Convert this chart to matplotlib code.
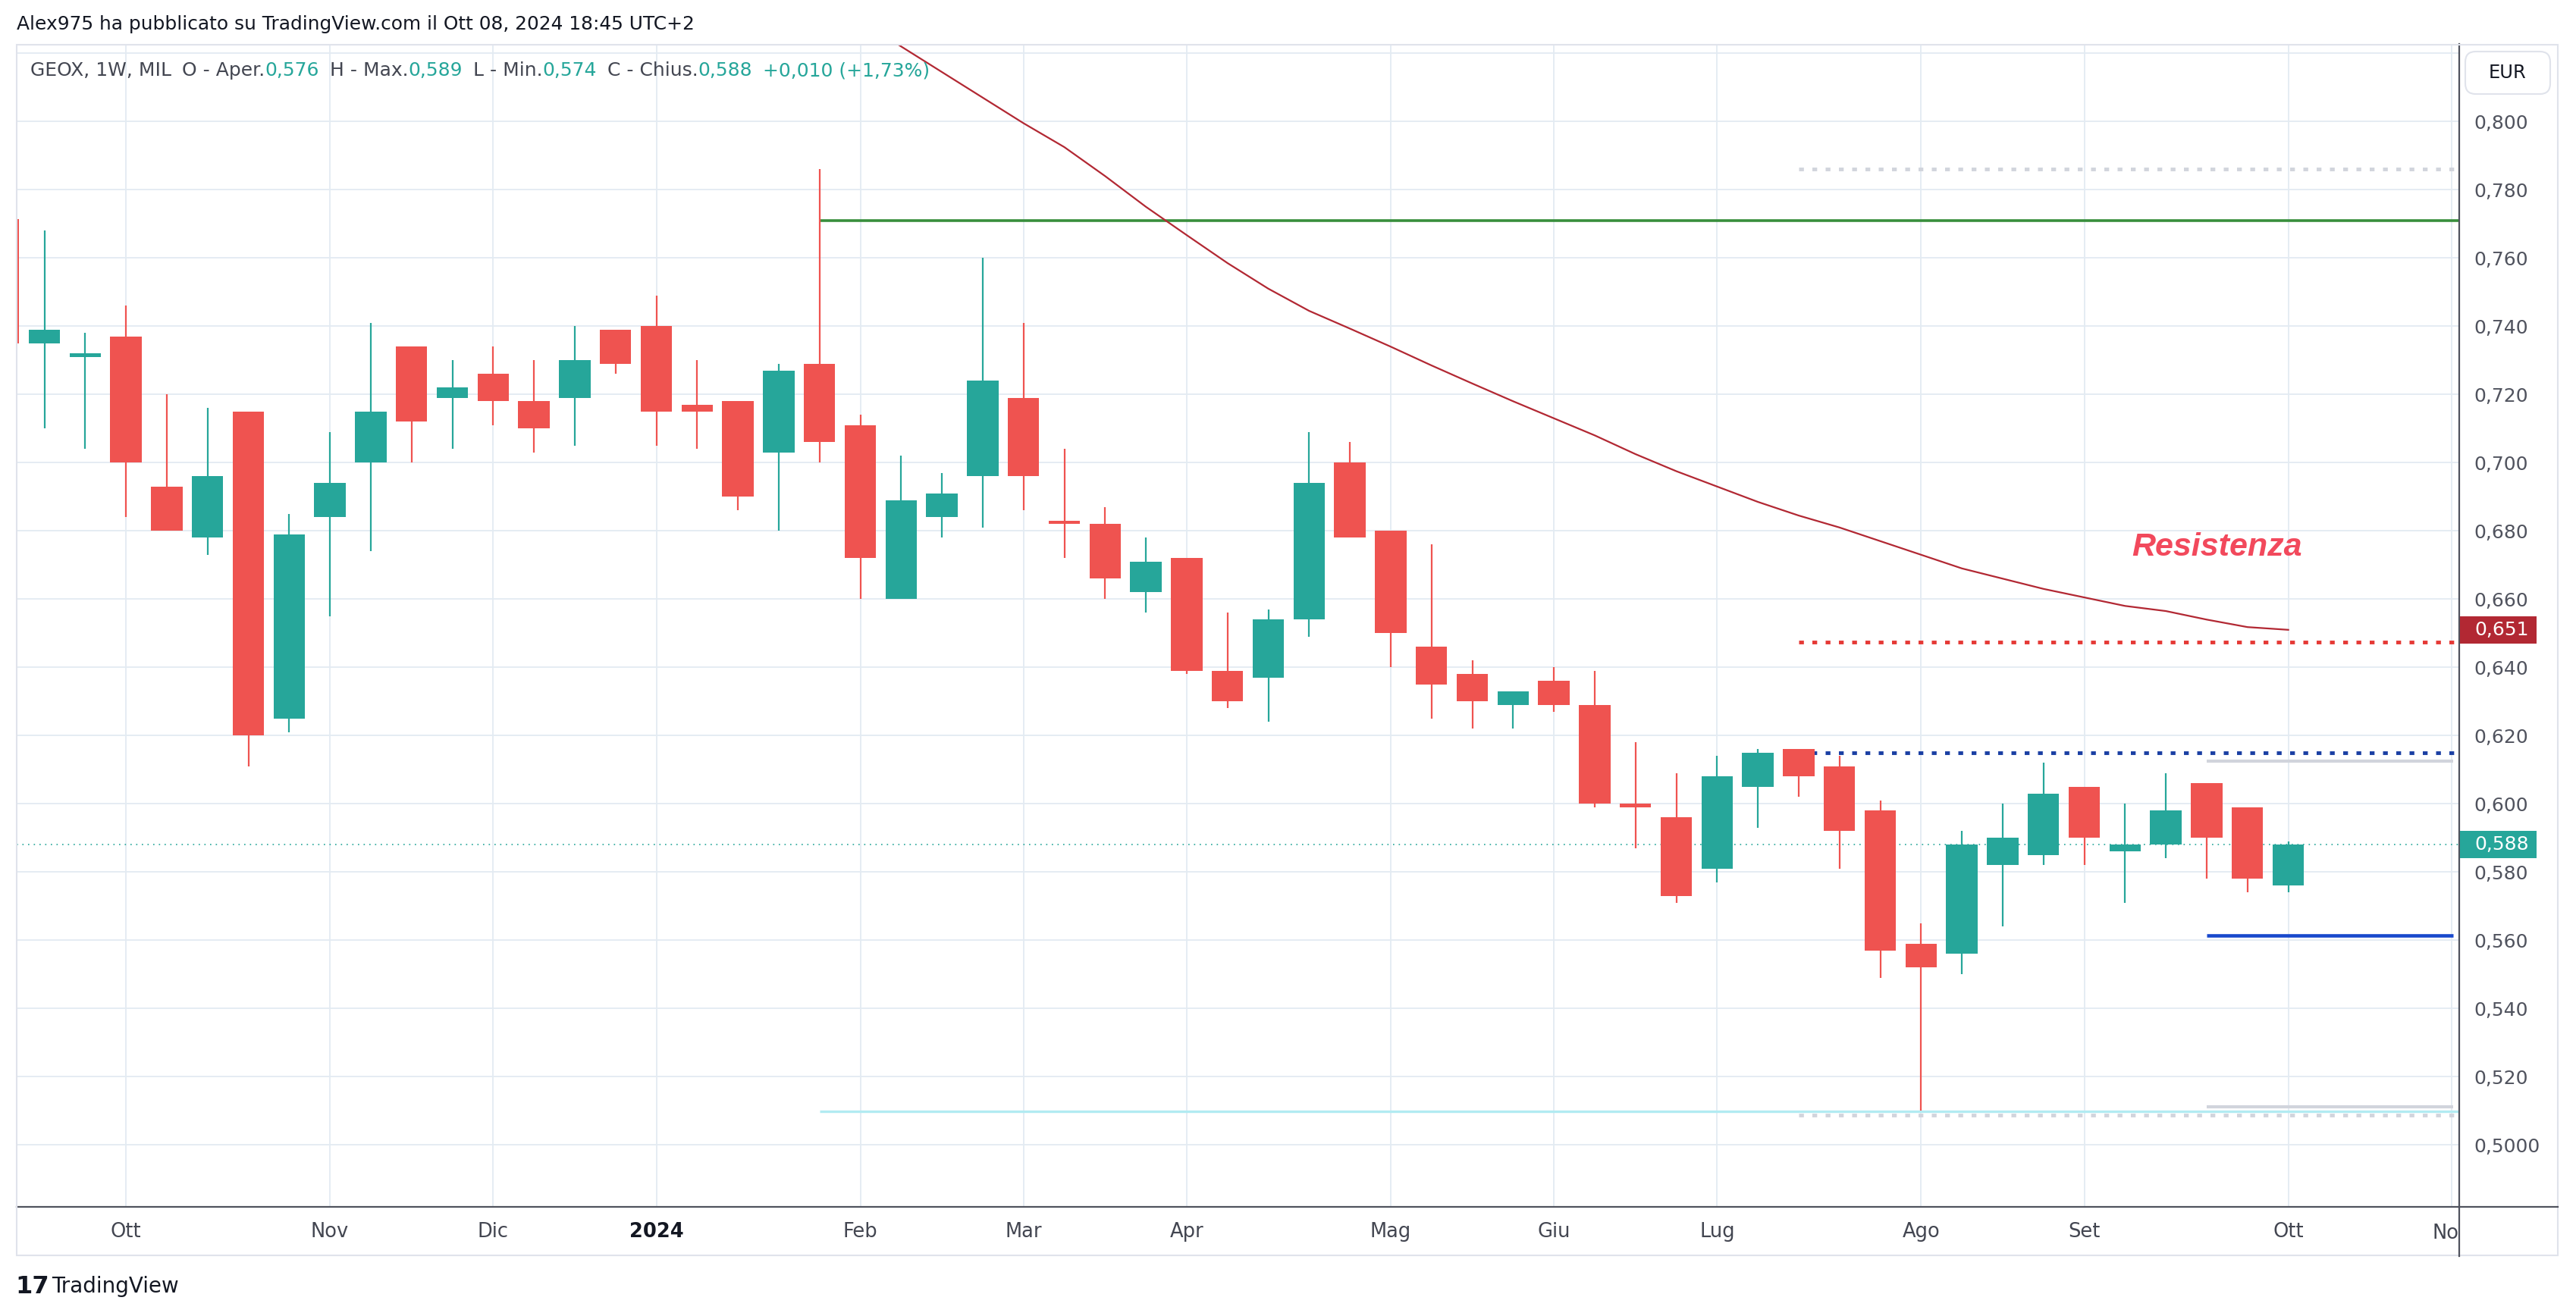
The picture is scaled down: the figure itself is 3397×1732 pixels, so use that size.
import matplotlib
matplotlib.use("Agg")
import matplotlib.pyplot as plt
import matplotlib.transforms as mtransforms
from matplotlib.patches import Rectangle, FancyBboxPatch
from matplotlib.lines import Line2D
import numpy as np

W, H = 3397, 1732
DPI = 100

# candele settimanali GEOX (indice 0 = 18 set 2023, -1 = candela tagliata a sinistra)
week = np.arange(-1, 56)
opens = [0.7715, 0.735, 0.731, 0.737, 0.693, 0.678, 0.715, 0.625, 0.684, 0.700,
         0.734, 0.719, 0.726, 0.718, 0.719, 0.739, 0.740, 0.717, 0.718, 0.703,
         0.729, 0.711, 0.660, 0.684, 0.696, 0.719, 0.683, 0.682, 0.662, 0.672,
         0.639, 0.637, 0.654, 0.700, 0.680, 0.646, 0.638, 0.629, 0.636, 0.629,
         0.600, 0.596, 0.581, 0.605, 0.616, 0.611, 0.598, 0.559, 0.556, 0.582,
         0.585, 0.605, 0.586, 0.588, 0.606, 0.599, 0.576]
highs = [0.7715, 0.768, 0.738, 0.746, 0.720, 0.716, 0.715, 0.685, 0.709, 0.741,
         0.734, 0.730, 0.734, 0.730, 0.740, 0.739, 0.749, 0.730, 0.718, 0.729,
         0.786, 0.714, 0.702, 0.697, 0.760, 0.741, 0.704, 0.687, 0.678, 0.672,
         0.656, 0.657, 0.709, 0.706, 0.680, 0.676, 0.642, 0.633, 0.640, 0.639,
         0.618, 0.609, 0.614, 0.616, 0.616, 0.614, 0.601, 0.565, 0.592, 0.600,
         0.612, 0.605, 0.600, 0.609, 0.606, 0.599, 0.589]
lows = [0.735, 0.710, 0.704, 0.684, 0.680, 0.673, 0.611, 0.621, 0.655, 0.674,
        0.700, 0.704, 0.711, 0.703, 0.705, 0.726, 0.705, 0.704, 0.686, 0.680,
        0.700, 0.660, 0.660, 0.678, 0.681, 0.686, 0.672, 0.660, 0.656, 0.638,
        0.628, 0.624, 0.649, 0.678, 0.640, 0.625, 0.622, 0.622, 0.627, 0.599,
        0.587, 0.571, 0.577, 0.593, 0.602, 0.581, 0.549, 0.510, 0.550, 0.564,
        0.582, 0.582, 0.571, 0.584, 0.578, 0.574, 0.574]
closes = [0.735, 0.739, 0.732, 0.700, 0.680, 0.696, 0.620, 0.679, 0.694, 0.715,
          0.712, 0.722, 0.718, 0.710, 0.730, 0.729, 0.715, 0.715, 0.690, 0.727,
          0.706, 0.672, 0.689, 0.691, 0.724, 0.696, 0.682, 0.666, 0.671, 0.639,
          0.630, 0.654, 0.694, 0.678, 0.650, 0.635, 0.630, 0.633, 0.629, 0.600,
          0.599, 0.573, 0.608, 0.615, 0.608, 0.592, 0.557, 0.552, 0.588, 0.590,
          0.603, 0.590, 0.588, 0.598, 0.590, 0.578, 0.588]

# media mobile (linea rossa scura)
sma_x = np.arange(20, 56)
sma = [0.830, 0.822, 0.8145, 0.807, 0.7995, 0.7925, 0.784, 0.775, 0.7667, 0.7585,
       0.751, 0.7445, 0.7393, 0.734, 0.7285, 0.7232, 0.718, 0.713, 0.708, 0.7025,
       0.6975, 0.693, 0.6885, 0.6845, 0.681, 0.677, 0.673, 0.669, 0.666, 0.663,
       0.6605, 0.658, 0.6565, 0.654, 0.6518, 0.651]

month_pos = [2, 7, 11, 15, 20, 24, 28, 33, 37, 41, 46, 50, 55, 59]
month_lab = ["Ott", "Nov", "Dic", "2024", "Feb", "Mar", "Apr", "Mag", "Giu",
             "Lug", "Ago", "Set", "Ott", ""]

price_ticks = [0.50, 0.52, 0.54, 0.56, 0.58, 0.60, 0.62, 0.64, 0.66, 0.68,
               0.70, 0.72, 0.74, 0.76, 0.78, 0.80, 0.82]
price_labels = ["0,5000", "0,520", "0,540", "0,560", "0,580", "0,600", "0,620",
                "0,640", "0,660", "0,680", "0,700", "0,720", "0,740", "0,760",
                "0,780", "0,800", ""]

last_price = 0.588
sma_last = 0.651

UP = "#26a69a"
DOWN = "#ef5350"
AXC = "#50535e"
GRID = "#e3ebf2"

fig = plt.figure(figsize=(W / DPI, H / DPI), dpi=DPI)
fig.patch.set_facecolor("white")

def fx(x):
    return x / W

def fy(y):
    return 1 - y / H

ax = fig.add_axes([fx(21.7), fy(1592.4), fx(3243) - fx(21.7), fy(58.5) - fy(1592.4)])
ax.set_xlim(-0.684, 59.19)
ax.set_ylim(0.48176, 0.82262)

# griglia
ax.set_yticks(price_ticks)
ax.set_yticklabels(price_labels)
ax.set_xticks(month_pos)
ax.set_xticklabels(month_lab)
ax.grid(True, color=GRID, lw=1.3, zorder=0)
ax.set_axisbelow(True)

ax.yaxis.tick_right()
ax.tick_params(axis="y", length=0, pad=14, labelsize=18, labelcolor=AXC)
ax.tick_params(axis="x", length=0, pad=14, labelsize=18.5, labelcolor="#434651")
for lab in ax.get_xticklabels():
    if lab.get_text() == "2024":
        lab.set_fontweight("bold")
        lab.set_color("#131722")
for s in ["top", "left"]:
    ax.spines[s].set_visible(False)
for s in ["right", "bottom"]:
    ax.spines[s].set_color(AXC)
    ax.spines[s].set_linewidth(1.6)

# etichetta "Nov" tagliata dall'asse dei prezzi
nov = ax.text(59, -0.0225, "Nov", transform=ax.get_xaxis_transform(), ha="center",
              va="center", fontsize=18.5, color="#434651")
nov.set_clip_box(mtransforms.TransformedBbox(
    mtransforms.Bbox([[0, 0], [fx(3243), 1]]), fig.transFigure))
nov.set_clip_on(True)

# linee orizzontali disegnate
ax.hlines(0.771, 19, 59.5, color="#388e3c", lw=2.6, zorder=2)
ax.hlines(0.5098, 19, 59.5, color="#b2ebf2", lw=2.4, zorder=2)
ax.hlines(0.786, 43, 59.5, color="#d1d4dc", lw=3.5, linestyles=(0, (1.3, 2.3)), zorder=2)
ax.hlines(0.5088, 43, 59.5, color="#d1d4dc", lw=3.5, linestyles=(0, (1.3, 2.3)), zorder=2)
ax.hlines(0.6475, 43, 59.5, color="#e53935", lw=3.5, linestyles=(0, (1.3, 2.3)), zorder=2)
ax.hlines(0.615, 43, 59.5, color="#1a3fa3", lw=3.5, linestyles=(0, (1.3, 2.3)), zorder=2)
ax.hlines(0.6125, 53, 59.04, color="#d1d4dc", lw=3, zorder=2)
ax.hlines(0.5112, 53, 59.04, color="#d1d4dc", lw=3, zorder=2)
ax.hlines(0.5615, 53, 59.04, color="#1848cc", lw=3.3, zorder=2)
ax.axhline(last_price, color=UP, lw=1.2, ls=(0, (1, 3.5)), zorder=2)

# candele
opens_a = np.array(opens)
closes_a = np.array(closes)
colors = [UP if c >= o else DOWN for o, c in zip(opens, closes)]
ax.vlines(week, lows, highs, colors=colors, lw=1.6, zorder=3)
body_lo = np.minimum(opens_a, closes_a)
body_h = np.maximum(np.abs(closes_a - opens_a), 0.0009)
ax.bar(week, body_h, bottom=body_lo, width=0.77, color=colors, zorder=4, linewidth=0)

# media mobile
ax.plot(sma_x, sma, color="#b22833", lw=1.6, zorder=5)

ax.text(53.26, 0.6752, "Resistenza", fontsize=31, fontweight="bold", fontstyle="italic",
        family="Liberation Sans", color="#f2495c", ha="center", va="center", zorder=6)

# etichette prezzo sull'asse destro
blend = mtransforms.blended_transform_factory(fig.transFigure, ax.transData)
for val, fc in [(sma_last, "#b22833"), (last_price, UP)]:
    ax.add_patch(Rectangle((fx(3244), val - 0.004), fx(3345) - fx(3244), 0.008,
                           transform=blend, facecolor=fc, edgecolor="none",
                           clip_on=False, zorder=7))
    ax.text(fx(3263), val, f"{val:.3f}".replace(".", ","), transform=blend,
            fontsize=18, color="white", ha="left", va="center", zorder=8, clip_on=False)

# cornice e prolungamenti degli assi
fig.add_artist(Rectangle((fx(21.7), fy(1656)), fx(3373) - fx(21.7), fy(58.5) - fy(1656),
                         transform=fig.transFigure, fill=False, edgecolor="#e0e3eb", lw=1.5))
fig.add_artist(Line2D([fx(3243), fx(3243)], [fy(1592.4), fy(1657)], transform=fig.transFigure,
                      color=AXC, lw=1.6))
fig.add_artist(Line2D([fx(3243), fx(3373)], [fy(1592.4), fy(1592.4)], transform=fig.transFigure,
                      color=AXC, lw=1.6))
fig.add_artist(FancyBboxPatch((fx(3251), fy(124)), fx(3363) - fx(3251), fy(68) - fy(124),
                              boxstyle="round,pad=0,rounding_size=0.004", mutation_aspect=2,
                              transform=fig.transFigure, facecolor="white",
                              edgecolor="#e0e3eb", lw=1.5))
fig.text(fx(3307), fy(96), "EUR", fontsize=17.5, color="#131722", ha="center", va="center")

# intestazione
fig.text(fx(22), fy(32), "Alex975 ha pubblicato su TradingView.com il Ott 08, 2024 18:45 UTC+2",
         fontsize=17.9, color="#131722", ha="left", va="center")

legend_parts = [("GEOX, 1W, MIL", "#434651", 10), ("O - Aper.", "#434651", 0),
                ("0,576", UP, 10), ("H - Max.", "#434651", 0), ("0,589", UP, 10),
                ("L - Min.", "#434651", 0), ("0,574", UP, 10), ("C - Chius.", "#434651", 0),
                ("0,588", UP, 10), ("+0,010 (+1,73%)", UP, 0)]
t = fig.text(fx(40), fy(93), legend_parts[0][0], fontsize=18, color=legend_parts[0][1],
             ha="left", va="center")
gap = legend_parts[0][2]
for txt, col, g in legend_parts[1:]:
    t = fig.add_artist(plt.Annotation(txt, xy=(1, 0), xycoords=t, xytext=(gap, 0),
                                      textcoords="offset points", fontsize=18, color=col,
                                      ha="left", va="bottom"))
    gap = g

# logo in basso
fig.text(fx(20), fy(1697), "17", fontsize=23, fontweight="bold", color="#131722",
         ha="left", va="center")
fig.text(fx(68), fy(1697), "TradingView", fontsize=20, color="#131722",
         ha="left", va="center")

fig.savefig("out.png", dpi=DPI, facecolor="white")
